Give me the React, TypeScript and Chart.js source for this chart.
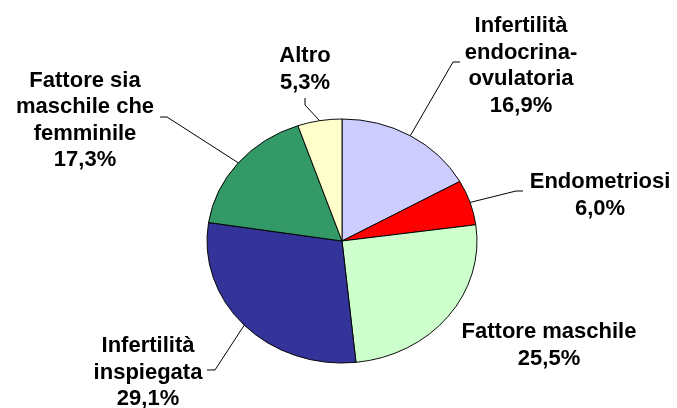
import React, { useEffect, useRef } from "react";
import { Chart, registerables } from "chart.js";

Chart.register(...registerables);

// ---- data ----
const categories: string[][] = [
  ["Infertilità", "endocrina-", "ovulatoria"],
  ["Endometriosi"],
  ["Fattore maschile"],
  ["Infertilità", "inspiegata"],
  ["Fattore sia", "maschile che", "femminile"],
  ["Altro"],
];
const values: number[] = [16.9, 6.0, 25.5, 29.1, 17.3, 5.3];
const percentLabels: string[] = ["16,9%", "6,0%", "25,5%", "29,1%", "17,3%", "5,3%"];

// ---- styles / layout ----
const sliceColors = ["#CCCCFF", "#FF0000", "#CCFFCC", "#333399", "#339966", "#FFFFCC"];
const PIE_RADIUS = 135;
const SQUASH = 122 / 135;
const FONT = "bold 22px 'Liberation Sans', Arial, sans-serif";
const LINE_H = 26.5;

type Layout = { cx: number; base: number; leader: number[][] | null };
const labelLayout: Layout[] = [
  { cx: 521, base: 32, leader: [[453, 62], [460, 62]] },
  { cx: 600, base: 188, leader: [[516, 191], [523, 191]] },
  { cx: 549, base: 338, leader: null },
  { cx: 148, base: 352, leader: [[215, 370], [207, 370]] },
  { cx: 85, base: 86.5, leader: [[167, 117], [160, 117]] },
  { cx: 305, base: 62, leader: [[305, 105], [305, 98]] },
];

const ellipsePlugin = {
  id: "ellipsePie",
  beforeDatasetsDraw(chart: any) {
    const ctx = chart.ctx;
    const arc = chart.getDatasetMeta(0).data[0];
    ctx.save();
    ctx.translate(arc.x, arc.y);
    ctx.scale(1, SQUASH);
    ctx.translate(-arc.x, -arc.y);
  },
  afterDatasetsDraw(chart: any) {
    chart.ctx.restore();
  },
  afterDraw(chart: any) {
    const ctx = chart.ctx;
    const arcs = chart.getDatasetMeta(0).data;
    ctx.save();
    // leader lines
    ctx.strokeStyle = "#000000";
    ctx.lineWidth = 1;
    arcs.forEach((arc: any, i: number) => {
      const lay = labelLayout[i];
      if (!lay.leader) return;
      const mid = (arc.startAngle + arc.endAngle) / 2;
      const px = arc.x + Math.cos(mid) * arc.outerRadius;
      const py = arc.y + Math.sin(mid) * arc.outerRadius * SQUASH;
      ctx.beginPath();
      ctx.moveTo(px, py);
      lay.leader.forEach((p) => ctx.lineTo(p[0], p[1]));
      ctx.stroke();
    });
    // labels
    ctx.fillStyle = "#000000";
    ctx.font = FONT;
    ctx.textAlign = "center";
    ctx.textBaseline = "alphabetic";
    categories.forEach((lines, i) => {
      const lay = labelLayout[i];
      const all = [...lines, percentLabels[i]];
      all.forEach((t, j) => {
        ctx.fillText(t, lay.cx, lay.base + j * LINE_H);
      });
    });
    ctx.restore();
  },
};

export default function App() {
  const ref = useRef<HTMLCanvasElement | null>(null);
  useEffect(() => {
    document.body.style.margin = "0";
    if (!ref.current) return;
    const chart = new Chart(ref.current, {
      type: "pie",
      data: {
        labels: categories.map((c) => c.join(" ")),
        datasets: [
          {
            data: values,
            backgroundColor: sliceColors,
            borderColor: "#000000",
            borderWidth: 1,
          },
        ],
      },
      options: {
        responsive: false,
        animation: false,
        radius: PIE_RADIUS,
        layout: { padding: { left: 7, right: 0, top: 74, bottom: 0 } },
        plugins: {
          legend: { display: false },
          tooltip: { enabled: false },
        },
      } as any,
      plugins: [ellipsePlugin],
    });
    return () => chart.destroy();
  }, []);
  return (
    <div style={{ position: "fixed", left: 0, top: 0, width: 677, height: 408, background: "#fff" }}>
      <canvas ref={ref} width={677} height={408} />
    </div>
  );
}
